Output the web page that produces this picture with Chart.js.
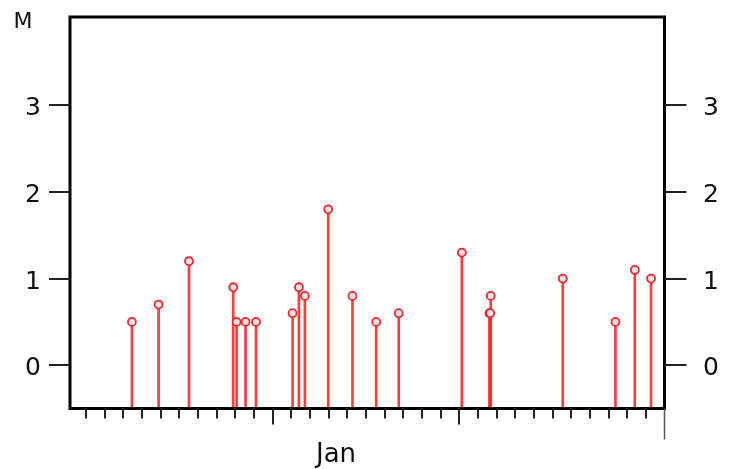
<!DOCTYPE html>
<html>
<head>
  <title>Event magnitudes</title>
  <style>
    body { margin: 0; background: #fff; }
    #wrap { width: 729px; height: 469px; }
  </style>
</head>
<body>
  <div id="wrap"><canvas id="magChart" width="729" height="469"></canvas></div>

  <script src="https://cdn.jsdelivr.net/npm/chart.js"></script>
  <script>
    // event times in minor-tick units, and magnitudes
    const eventTimes = [2.46, 3.89, 5.52, 7.89, 8.07, 8.55, 9.11, 11.07, 11.41, 11.73, 12.98,
                        14.28, 15.55, 16.76, 20.14, 21.62, 21.66, 21.69, 25.55, 28.37, 29.41, 30.28];
    const magnitudes = [0.5, 0.7, 1.2, 0.9, 0.5, 0.5, 0.5, 0.6, 0.9, 0.8, 1.8,
                        0.8, 0.5, 0.6, 1.3, 0.6, 0.6, 0.8, 1.0, 0.5, 1.1, 1.0];

    const yTicks = [0, 1, 2, 3];
    const xMajorTicks = [10, 20];
    const xEndTick = 31;
    const xMinorTicks = [];
    for (let k = 0; k <= 30; k++) if (!xMajorTicks.includes(k)) xMinorTicks.push(k);
    const monthLabel = 'Jan';
    const monthLabelAt = 13.4;
    const yTitle = 'M';
    const yBase = -0.5;

    const FONT = '"DejaVu Sans", sans-serif';

    // axes, frame and labels drawn from the chart's scales
    const frame = {
      id: 'frame',
      afterDraw(chart) {
        const ctx = chart.ctx;
        const a = chart.chartArea;
        const xs = chart.scales.x, ys = chart.scales.y;
        ctx.save();
        ctx.strokeStyle = '#000';
        ctx.lineWidth = 3;
        ctx.strokeRect(a.left, a.top, a.right - a.left, a.bottom - a.top);

        ctx.strokeStyle = '#222';
        ctx.lineWidth = 2;
        ctx.fillStyle = '#111';
        ctx.font = '25px ' + FONT;
        ctx.textBaseline = 'middle';
        yTicks.forEach(v => {
          const y = Math.round(ys.getPixelForValue(v));
          ctx.beginPath();
          ctx.moveTo(a.left - 21, y); ctx.lineTo(a.left, y);
          ctx.moveTo(a.right, y); ctx.lineTo(a.right + 22, y);
          ctx.stroke();
          ctx.textAlign = 'center';
          ctx.fillText(String(v), 33, y + 3);
          ctx.fillText(String(v), 711, y + 3);
        });

        ctx.lineWidth = 2;
        xMinorTicks.forEach(v => {
          const x = Math.round(xs.getPixelForValue(v));
          ctx.beginPath(); ctx.moveTo(x, a.bottom); ctx.lineTo(x, a.bottom + 10); ctx.stroke();
        });
        xMajorTicks.forEach(v => {
          const x = Math.round(xs.getPixelForValue(v));
          ctx.beginPath(); ctx.moveTo(x, a.bottom); ctx.lineTo(x, a.bottom + 16); ctx.stroke();
        });
        ctx.lineWidth = 1.5;
        ctx.strokeStyle = '#555';
        const xe = xs.getPixelForValue(xEndTick);
        ctx.beginPath(); ctx.moveTo(xe, a.bottom); ctx.lineTo(xe, a.bottom + 31); ctx.stroke();

        ctx.font = '26px ' + FONT;
        ctx.textAlign = 'center';
        ctx.textBaseline = 'alphabetic';
        ctx.fillText(monthLabel, xs.getPixelForValue(monthLabelAt), 462);
        ctx.font = '22px ' + FONT;
        ctx.fillText(yTitle, 23, 28);
        ctx.restore();
      }
    };

    new Chart(document.getElementById('magChart'), {
      type: 'bar',
      data: {
        datasets: [
          {
            type: 'scatter',
            order: 0,
            data: eventTimes.map((t, i) => ({ x: t, y: magnitudes[i] })),
            pointRadius: 4,
            pointBorderWidth: 1.8,
            pointBorderColor: 'rgba(235, 30, 40, 0.95)',
            pointBackgroundColor: '#ffe0e0'
          },
          {
            type: 'bar',
            order: 1,
            data: eventTimes.map((t, i) => ({ x: t, y: [yBase, magnitudes[i]] })),
            backgroundColor: 'rgba(255, 40, 40, 0.9)',
            barThickness: 2,
            borderWidth: 0
          }
        ]
      },
      options: {
        responsive: false,
        animation: false,
        layout: { padding: { left: 70, top: 17, right: 64.5, bottom: 60.5 } },
        plugins: { legend: { display: false }, tooltip: { enabled: false } },
        scales: {
          x: { type: 'linear', min: -0.857, max: 31, offset: false, display: false },
          y: { type: 'linear', min: yBase, max: 4.02, display: false }
        }
      },
      plugins: [frame]
    });
  </script>
</body>
</html>
